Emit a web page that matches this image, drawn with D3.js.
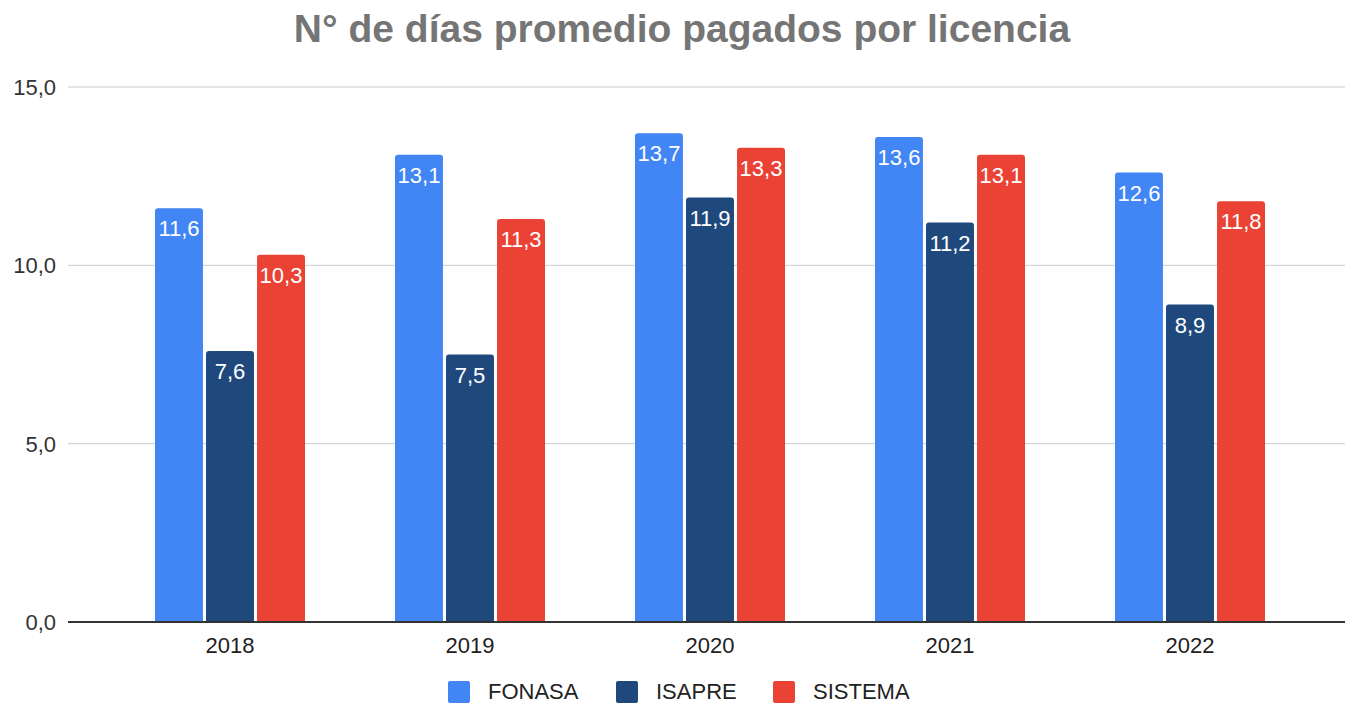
<!DOCTYPE html>
<html>
<head>
<meta charset="utf-8">
<script src="https://cdn.jsdelivr.net/npm/d3@7"></script>
<style>
  body { margin: 0; background: #fff; }
  text { font-family: "Liberation Sans", Arial, sans-serif; }
</style>
</head>
<body>
<script>
// data
var years = ['2018', '2019', '2020', '2021', '2022'];
var series = ['FONASA', 'ISAPRE', 'SISTEMA'];
var fonasa = [11.6, 13.1, 13.7, 13.6, 12.6];
var isapre = [7.6, 7.5, 11.9, 11.2, 8.9];
var sistema = [10.3, 11.3, 13.3, 13.1, 11.8];
var yTicks = [0, 5, 10, 15];
var colors = ['#4285f4', '#1f497d', '#ea4335'];

var w = 1345, h = 705;
var svg = d3.select('body').append('svg')
    .attr('width', w)
    .attr('height', h);

var y = d3.scaleLinear().domain([0, 15]).range([622, 87]);
var x = d3.scaleBand().domain(years).range([110, 1310]).paddingInner(0).paddingOuter(0);
var inner = d3.scaleBand().domain(series).range([45, 195]).paddingInner(0.06);

var fmt = function(v) { return d3.format('.1f')(v).replace('.', ','); };

// title
svg.append('text')
    .attr('x', 682).attr('y', 42)
    .attr('text-anchor', 'middle')
    .attr('font-size', '39px')
    .attr('font-weight', 'bold')
    .attr('fill', '#757575')
    .text('N° de días promedio pagados por licencia');

// gridlines
svg.selectAll('.grid')
    .data(yTicks.filter(function(d){ return d > 0; }))
    .enter().append('line')
    .attr('x1', 68).attr('x2', w)
    .attr('y1', function(d){ return y(d); })
    .attr('y2', function(d){ return y(d); })
    .attr('stroke', '#cccccc').attr('stroke-width', 1);

// y labels
svg.selectAll('.ylab')
    .data(yTicks)
    .enter().append('text')
    .attr('x', 56)
    .attr('y', function(d){ return y(d) + 8; })
    .attr('text-anchor', 'end')
    .attr('font-size', '22px')
    .attr('fill', '#333')
    .text(fmt);

// bars
var rows = [];
years.forEach(function(yr, i) {
  rows.push({year: yr, s: 'FONASA', v: fonasa[i], c: colors[0]});
  rows.push({year: yr, s: 'ISAPRE', v: isapre[i], c: colors[1]});
  rows.push({year: yr, s: 'SISTEMA', v: sistema[i], c: colors[2]});
});

function barPath(x0, y0, bw, bh, r) {
  return 'M' + x0 + ',' + (y0 + bh) +
    'V' + (y0 + r) +
    'Q' + x0 + ',' + y0 + ' ' + (x0 + r) + ',' + y0 +
    'H' + (x0 + bw - r) +
    'Q' + (x0 + bw) + ',' + y0 + ' ' + (x0 + bw) + ',' + (y0 + r) +
    'V' + (y0 + bh) + 'Z';
}

svg.selectAll('.bar')
    .data(rows)
    .enter().append('path')
    .attr('d', function(d){
      var bx = x(d.year) + inner(d.s);
      return barPath(bx, y(d.v), inner.bandwidth(), y(0) - y(d.v), 3);
    })
    .attr('fill', function(d){ return d.c; });

svg.selectAll('.val')
    .data(rows)
    .enter().append('text')
    .attr('x', function(d){ return x(d.year) + inner(d.s) + inner.bandwidth() / 2; })
    .attr('y', function(d){ return y(d.v) + 28; })
    .attr('text-anchor', 'middle')
    .attr('font-family', 'Roboto, sans-serif')
    .attr('font-size', '22px')
    .attr('fill', '#fff')
    .text(function(d){ return fmt(d.v); });

// baseline
svg.append('line')
    .attr('x1', 68).attr('x2', w)
    .attr('y1', y(0)).attr('y2', y(0))
    .attr('stroke', '#333').attr('stroke-width', 2);

// x labels
svg.selectAll('.xlab')
    .data(years)
    .enter().append('text')
    .attr('x', function(d){ return x(d) + x.bandwidth() / 2; })
    .attr('y', 653)
    .attr('text-anchor', 'middle')
    .attr('font-size', '22px')
    .attr('fill', '#222')
    .text(function(d){ return d; });

// legend
var legX = [448, 616, 773];
var leg = svg.selectAll('.leg')
    .data(series)
    .enter().append('g')
    .attr('transform', function(d, i){ return 'translate(' + legX[i] + ',681)'; });
leg.append('rect')
    .attr('width', 22).attr('height', 22).attr('rx', 2)
    .attr('fill', function(d, i){ return colors[i]; });
leg.append('text')
    .attr('x', 40).attr('y', 18)
    .attr('font-size', '22px')
    .attr('fill', '#222')
    .text(function(d){ return d; });
</script>
</body>
</html>
